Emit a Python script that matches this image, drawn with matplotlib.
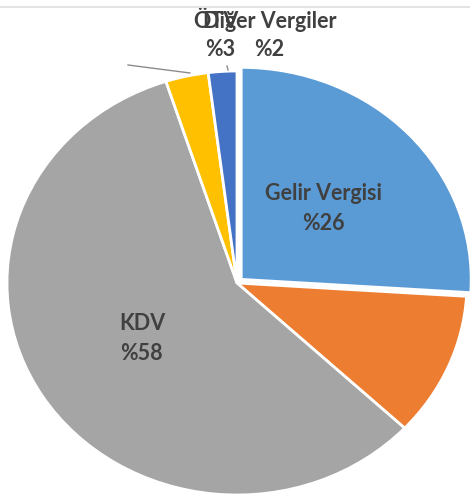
import matplotlib
matplotlib.use("Agg")
import matplotlib.pyplot as plt
from matplotlib.lines import Line2D

# Data
categories = ["Gelir Vergisi", "Kurumlar Vergisi", "KDV", "ÖTV", "Diğer Vergiler"]
values = [26, 11, 58, 3, 2]
shown_labels = ["Gelir Vergisi\n%26", "", "KDV\n%58", "", ""]
colors = ["#5B9BD5", "#ED7D31", "#A5A5A5", "#FFC000", "#4472C4"]
explode = [0.025, 0, 0, 0, 0]

W, H = 470, 497
fig = plt.figure(figsize=(W / 100, H / 100), dpi=100)
ax = fig.add_axes([0, 0, 1, 1])

# pixel geometry of the pie (center and elliptical radii)
cx, cy, rx, ry = 237, 283, 230, 212


def px(x, y):
    return ((x - cx) / rx, (cy - y) / ry)


FS = 15.5
wedges, texts = ax.pie(
    values,
    labels=shown_labels,
    colors=colors,
    explode=explode,
    startangle=90,
    counterclock=False,
    labeldistance=0.49,
    wedgeprops=dict(edgecolor="white", linewidth=2),
    textprops=dict(fontsize=FS, fontweight="bold", color="#404040",
                   family=["Lato", "DejaVu Sans"], linespacing=1.55),
)
for t in texts:
    t.set_ha("center")
    t.set_va("center")

ax.set_aspect("auto")
x0, y0 = px(0, H)
x1, y1 = px(W, 0)
ax.set_xlim(x0, x1)
ax.set_ylim(y0, y1)
ax.axis("off")

tp = dict(fontsize=FS, fontweight="bold", color="#404040",
          family=["Lato", "DejaVu Sans"], ha="center", va="center")
# outside labels (overlapping, as in the reference)
ax.text(*px(270, 21), "Diğer Vergiler", **tp)
ax.text(*px(269, 50), "%2", **tp)
ax.text(*px(216, 21), "ÖTV", **tp)
ax.text(*px(220, 50), "%3", **tp)

# leader lines
lx = [px(128, 65)[0], px(190, 73)[0]]
ly = [px(128, 65)[1], px(190, 73)[1]]
ax.plot(lx, ly, color="#8c8c8c", lw=1)
ax.plot([px(227, 66)[0], px(228, 70)[0]], [px(227, 66)[1], px(228, 70)[1]],
        color="#8c8c8c", lw=1)

# top border line
fig.add_artist(Line2D([0, 1], [1 - 6.5 / H, 1 - 6.5 / H], transform=fig.transFigure,
                      color="#e3e3e3", lw=1.5))

fig.savefig("out.png", dpi=100)
